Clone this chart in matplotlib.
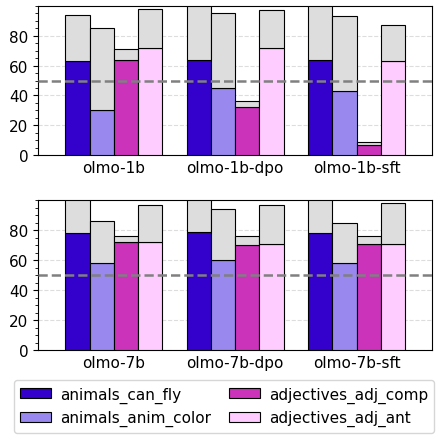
import numpy as np
import matplotlib.pyplot as plt
from matplotlib.ticker import MultipleLocator

plt.rcParams["font.size"] = 11

tasks = ["animals_can_fly", "animals_anim_color", "adjectives_adj_comp", "adjectives_adj_ant"]
colors = ["#3300cc", "#9988ee", "#cc33bb", "#ffccff"]

models_top = ["olmo-1b", "olmo-1b-dpo", "olmo-1b-sft"]
models_bot = ["olmo-7b", "olmo-7b-dpo", "olmo-7b-sft"]

# coloured part (accuracy) and grey total
acc_top = [[63, 30, 64, 72], [64, 45, 32, 72], [64, 43, 7, 63]]
tot_top = [[94, 85, 71, 98], [100, 95, 36, 97], [100, 93, 9, 87]]
acc_bot = [[78, 58, 72, 72], [79, 60, 70, 71], [78, 58, 71, 71]]
tot_bot = [[100, 86, 76, 97], [100, 94, 76, 97], [100, 85, 76, 98]]

fig, axes = plt.subplots(2, 1, figsize=(4.48, 4.39), dpi=100)
w = 0.2
for ax, models, acc, tot in [(axes[0], models_top, acc_top, tot_top),
                             (axes[1], models_bot, acc_bot, tot_bot)]:
    x = np.arange(len(models))
    for j in range(4):
        a = np.array([r[j] for r in acc])
        t = np.array([r[j] for r in tot])
        pos = x + (j - 1.5) * w
        ax.bar(pos, a, w, color=colors[j], edgecolor="black", linewidth=0.8,
               label=tasks[j], zorder=3)
        ax.bar(pos, t - a, w, bottom=a, color="#dddddd", edgecolor="black",
               linewidth=0.8, zorder=3)
    ax.axhline(50, color="gray", linestyle="--", linewidth=1.8, zorder=4)
    ax.set_ylim(0, 100)
    ax.set_xlim(-0.625, 2.625)
    ax.set_yticks([0, 20, 40, 60, 80])
    ax.yaxis.set_minor_locator(MultipleLocator(5))
    ax.grid(axis="y", linestyle="--", color="#dddddd", zorder=0)
    ax.set_xticks(x)
    ax.set_xticklabels(models)
    ax.tick_params(axis="x", length=0)

handles, labels = axes[0].get_legend_handles_labels()
fig.legend(handles, labels, loc="lower center", ncol=2, frameon=True,
           bbox_to_anchor=(0.5, -0.005), columnspacing=1.2, handletextpad=0.6)
fig.subplots_adjust(left=0.085, right=0.965, top=0.985, bottom=0.2, hspace=0.3)
fig.savefig("out.png")
